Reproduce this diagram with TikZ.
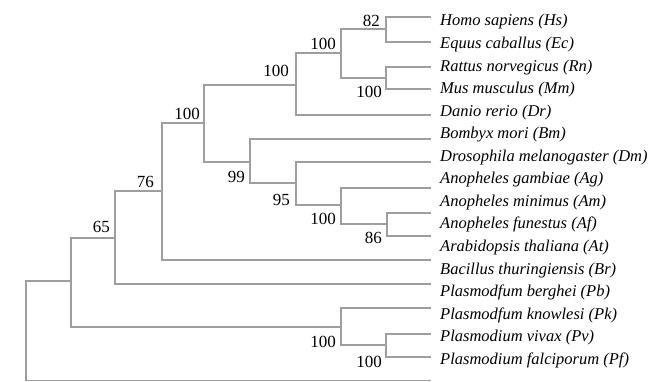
\documentclass[tikz,border=0pt]{standalone}
\usepackage{fontspec}
\setmainfont{Liberation Serif}
\definecolor{branch}{RGB}{158,158,158}
\begin{document}
\begin{tikzpicture}[x=1pt,y=-1pt,
  edge/.style={draw=branch,line width=1.6pt,line cap=rect},
  taxon/.style={anchor=base west,inner sep=0pt,font=\fontsize{16.5}{18}\selectfont\itshape},
  boot/.style={anchor=base east,inner sep=0pt,font=\fontsize{17}{18}\selectfont}]
\useasboundingbox[fill=white] (0,0) rectangle (661,382);
% internal nodes
\coordinate (root) at (26,331);
\coordinate (nP) at (71,281);
\coordinate (n65) at (115,238);
\coordinate (n76) at (162,191);
\coordinate (nA) at (204,123);
\coordinate (nV) at (296,85);
\coordinate (nV1) at (341,53);
\coordinate (n82) at (386,29);
\coordinate (nRM) at (386,78);
\coordinate (n99) at (250,162);
\coordinate (n95) at (296,183);
\coordinate (nAn) at (341,205);
\coordinate (n86) at (387,224);
\coordinate (nPl) at (341,327);
\coordinate (nPP) at (386,345);
% leaf ends
\foreach \n/\y in {Hs/17,Ec/42,Rn/67,Mm/89,Dr/115,Bm/139,Dm/162,Ag/188,Am/213,At/236,Br/260,Pb/284,Pk/308,Pv/334,Pf/357,Out/380.5}
  \coordinate (\n) at (430,\y);
% branches
\foreach \p/\c in {root/nP,root/Out,nP/n65,nP/nPl,n65/n76,n65/Pb,n76/nA,n76/Br,
  nA/nV,nA/n99,nV/nV1,nV/Dr,nV1/n82,nV1/nRM,n82/Hs,n82/Ec,nRM/Rn,nRM/Mm,
  n99/Bm,n99/n95,n95/Dm,n95/nAn,nAn/Ag,nAn/n86,n86/Am,n86/At,
  nPl/Pk,nPl/nPP,nPP/Pv,nPP/Pf}
  \draw[edge] (\p) |- (\c);
% taxon names
\foreach \t [count=\k from 0] in {Homo sapiens (Hs),Equus caballus (Ec),Rattus norvegicus (Rn),Mus musculus (Mm),Danio rerio (Dr),Bombyx mori (Bm),Drosophila melanogaster (Dm),Anopheles gambiae (Ag),Anopheles minimus (Am),Anopheles funestus (Af),Arabidopsis thaliana (At),Bacillus thuringiensis (Br),Plasmodfum berghei (Pb),Plasmodfum knowlesi (Pk),Plasmodium vivax (Pv),Plasmodium falciporum (Pf)}
  \node[taxon] (t\k) at (440,{26+22.55*\k}) {\t};
% bootstrap values
\node[boot] (b82) at (380,27) {82};
\node[boot] (bRM) at (382,98) {100};
\node[boot] (bV1) at (336,50) {100};
\node[boot] (bV) at (289,77) {100};
\node[boot] (bA) at (200,120) {100};
\node[boot] (b99) at (245,183) {99};
\node[boot] (b95) at (290,205) {95};
\node[boot] (bAn) at (336,225) {100};
\node[boot] (b86) at (382,243) {86};
\node[boot] (b76) at (154,188) {76};
\node[boot] (b65) at (110,233) {65};
\node[boot] (bPl) at (336,347) {100};
\node[boot] (bPP) at (382,367) {100};
\end{tikzpicture}
\end{document}
